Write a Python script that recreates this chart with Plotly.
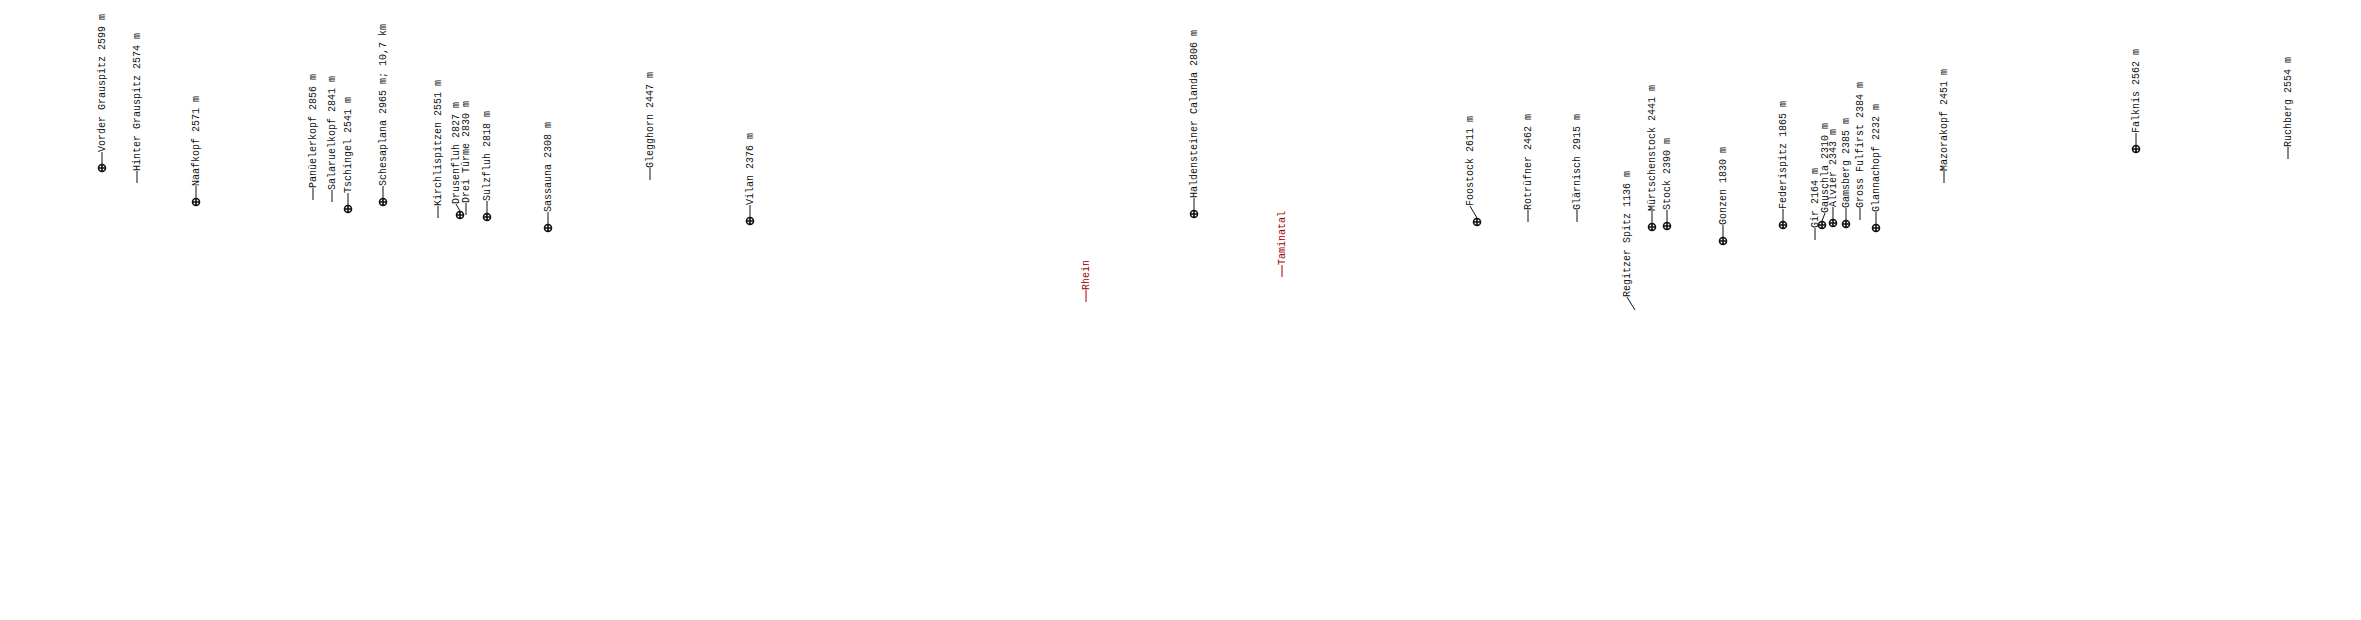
import plotly.graph_objects as go

# panorama labels, left to right (x = image column, y = image row of the summit)
names = ["Vorder Grauspitz", "Hinter Grauspitz", "Naafkopf", "Panüelerkopf", "Salaruelkopf",
         "Tschingel", "Schesaplana", "Kirchlispitzen", "Drusenfluh", "Drei Türme",
         "Sulzfluh", "Sassauna", "Glegghorn", "Vilan", "Rhein",
         "Haldensteiner Calanda", "Taminatal", "Foostock", "Rotrüfner", "Glärnisch",
         "Regitzer Spitz", "Mürtschenstock", "Stock", "Gonzen", "Federispitz",
         "Gir", "Gauschla", "Alvier", "Gamsberg", "Gross Fulfirst",
         "Glannachopf", "Mazorakopf", "Falknis", "Ruchberg"]
heights = [2599, 2574, 2571, 2856, 2841,
           2541, 2965, 2551, 2827, 2830,
           2818, 2308, 2447, 2376, None,
           2806, None, 2611, 2462, 2915,
           1136, 2441, 2390, 1830, 1865,
           2164, 2310, 2343, 2385, 2384,
           2232, 2451, 2562, 2554]
distance = {"Schesaplana": "10,7 km"}
valleys = ["Rhein", "Taminatal"]

pos_x = [102, 137, 196, 313, 332,
         348, 383, 438, 460, 466,
         487, 548, 650, 750, 1086,
         1194, 1282, 1477, 1528, 1577,
         1635, 1652, 1667, 1723, 1783,
         1815, 1822, 1833, 1846, 1860,
         1876, 1944, 2136, 2288]
pos_y = [168, 183, 202, 200, 202,
         209, 202, 218, 215, 215,
         217, 228, 180, 221, 302,
         214, 277, 222, 222, 222,
         310, 227, 226, 241, 225,
         240, 225, 223, 224, 220,
         228, 183, 149, 159]
visible = [True, False, True, False, False,
           True, True, False, True, False,
           True, True, False, True, False,
           True, False, True, False, False,
           False, True, True, True, True,
           False, True, True, True, False,
           True, False, True, False]

# labels that are pushed aside with a slanted leader
shifted = {"Drusenfluh": (456, 204), "Foostock": (1470, 206),
           "Regitzer Spitz": (1627, 297), "Gauschla": (1825, 213)}

font = "Liberation Mono"
black = "#111111"
red = "#a00000"

fig = go.Figure()

lead = {black: ([], []), red: ([], [])}
for i, name in enumerate(names):
    col = red if name in valleys else black
    y0 = pos_y[i] - (4 if visible[i] else 0)
    if name in shifted:
        lx, ly = shifted[name]
    else:
        lx, ly = pos_x[i], y0 - 12
    lead[col][0].extend([pos_x[i], lx, None])
    lead[col][1].extend([y0, ly, None])

    text = name if heights[i] is None else f"{name} {heights[i]} m"
    if name in distance:
        text += "; " + distance[name]
    fig.add_annotation(x=lx, y=ly + 1, text=text, textangle=-90, showarrow=False,
                       xanchor="center", yanchor="bottom", borderpad=0,
                       font=dict(family=font, size=10, color=col))

for col, (xs, ys) in lead.items():
    fig.add_trace(go.Scatter(x=xs, y=ys, mode="lines", line=dict(color=col, width=1),
                             hoverinfo="skip", showlegend=False))

fig.add_trace(go.Scatter(
    x=[x for x, v in zip(pos_x, visible) if v],
    y=[y for y, v in zip(pos_y, visible) if v],
    mode="markers",
    marker=dict(symbol="circle-cross-open", size=7, color=black, line=dict(width=1.6, color=black)),
    hoverinfo="skip", showlegend=False,
))

# page body has an 8px margin, so the axes start at 8 to keep image pixels
fig.update_xaxes(range=[8, 2353], visible=False)
fig.update_yaxes(range=[612, 8], visible=False)
fig.update_layout(width=2345, height=604, margin=dict(l=0, r=0, t=0, b=0),
                  plot_bgcolor="white", paper_bgcolor="white")

fig.write_html("out.html")
